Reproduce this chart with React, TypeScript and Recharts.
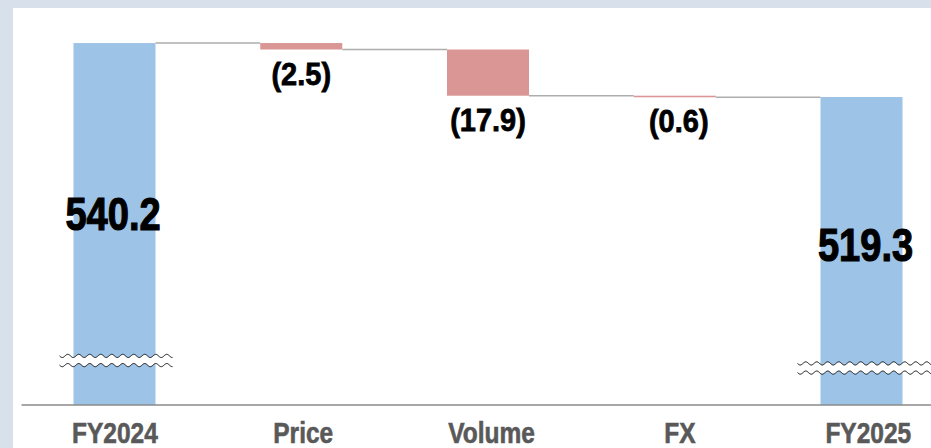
import React from 'react';
import { BarChart, Bar, XAxis, YAxis, Cell, LabelList } from 'recharts';

// waterfall data (FY2024 -> FY2025 bridge)
const CATEGORIES = ['FY2024', 'Price', 'Volume', 'FX', 'FY2025'];
const VALUES = [540.2, -2.5, -17.9, -0.6, 519.3];
const IS_TOTAL = [true, false, false, false, true];

// broken value axis: bars start at AXIS_BASE, not at zero
const AXIS_BASE = 400;
const AXIS_TOP = 553;

const CHART_W = 960;
const CHART_H = 448;
const X_AXIS_H = 43;
const MARGIN = { top: 10, right: 4.75, left: 21.5, bottom: 0 };
const BAR_SIZE = 82;
const BAND = (CHART_W - MARGIN.left - MARGIN.right) / CATEGORIES.length;
const AXIS_Y = CHART_H - MARGIN.bottom - X_AXIS_H;

const COLORS = {
  total: '#9DC3E6',
  down: '#DA9694',
  up: '#A9D18E',
  connector: '#ADADAD',
  axis: '#8A8A8A',
  tick: '#595959',
  bg: '#D8E0EB',
};

const FONT = '"Liberation Sans", Arial, sans-serif';

// axis-break marks on the total bars (offset from bar bottom, overhang left/right)
const BREAKS: Record<string, { offset: number; padL: number; padR: number }> = {
  FY2024: { offset: 44.5, padL: 14, padR: 17 },
  FY2025: { offset: 37, padL: 23, padR: 40 },
};

const fmt = (v: number) => (v < 0 ? `(${Math.abs(v).toFixed(1)})` : v.toFixed(1));

let running = 0;
const data = CATEGORIES.map((name, i) => {
  const v = VALUES[i];
  let range: [number, number];
  if (IS_TOTAL[i]) {
    range = [AXIS_BASE, v];
    running = v;
  } else {
    const end = running + v;
    range = [Math.min(end, running), Math.max(end, running)];
    running = end;
  }
  return { name, range, total: IS_TOTAL[i], down: v < 0, label: fmt(v) };
});

function wavePoints(x0: number, x1: number, yc: number) {
  const pts: string[] = [];
  for (let x = x0; x <= x1; x += 1) {
    pts.push(`${x},${(yc + 1.6 * Math.sin(((x - x0) / 11) * Math.PI * 2)).toFixed(2)}`);
  }
  return pts;
}

function WaterfallShape(props: any) {
  const { x, y, width, height, fill, index, payload } = props;
  const top = Math.min(y, y + height);
  const h = Math.abs(height);
  const bottom = top + h;
  const endY = payload.total ? top : payload.down ? bottom : top;
  const brk = payload.total ? BREAKS[payload.name] : null;

  let breakEl = null;
  if (brk) {
    const yc = bottom - brk.offset;
    const a = wavePoints(x - brk.padL, x + width + brk.padR, yc - 4.6);
    const b = wavePoints(x - brk.padL, x + width + brk.padR, yc + 4.6);
    breakEl = (
      <g>
        <polygon points={[...a, ...b.slice().reverse()].join(' ')} fill="#fff" />
        <polyline points={a.join(' ')} fill="none" stroke="#111" strokeWidth={1} />
        <polyline points={b.join(' ')} fill="none" stroke="#111" strokeWidth={1} />
      </g>
    );
  }

  return (
    <g>
      <rect x={x} y={top} width={width} height={Math.max(h, 1)} fill={fill} />
      {index < CATEGORIES.length - 1 && (
        <line
          x1={x + width}
          x2={x + BAND}
          y1={endY}
          y2={endY}
          stroke={COLORS.connector}
          strokeWidth={1.5}
        />
      )}
      {breakEl}
    </g>
  );
}

function ValueLabel(props: any) {
  const { x, y, width, height, value, index } = props;
  const top = Math.min(y, y + height);
  const bottom = top + Math.abs(height);
  const cx = x + width / 2;
  const row = data[index];

  if (row.total) {
    const brk = BREAKS[row.name];
    const breakY = bottom - brk.offset;
    const baseline = (top + breakY) / 2 + 28;
    return (
      <text
        transform={`translate(${cx + (index > 0 ? 4 : -1.5)} ${baseline}) scale(0.81 1)`}
        textAnchor="middle"
        fontFamily={FONT}
        fontWeight={700}
        fontSize={47}
        fill="#000"
        stroke="#000"
        strokeWidth={1.2}
      >
        {value}
      </text>
    );
  }
  return (
    <text
      transform={`translate(${cx + (index === 3 ? 4 : 0)} ${bottom + 35}) scale(0.92 1)`}
      textAnchor="middle"
      fontFamily={FONT}
      fontWeight={700}
      fontSize={31.5}
      fill="#000"
      stroke="#000"
      strokeWidth={0.8}
    >
      {value}
    </text>
  );
}

function CategoryTick(props: any) {
  const { x, payload, index } = props;
  return (
    <text
      transform={`translate(${x + index * 1.6} ${AXIS_Y + 38}) scale(0.845 1)`}
      textAnchor="middle"
      fontFamily={FONT}
      fontWeight={700}
      fontSize={29}
      fill={COLORS.tick}
      stroke={COLORS.tick}
      strokeWidth={0.6}
    >
      {payload.value}
    </text>
  );
}

export default function App() {
  return (
    <div
      style={{
        position: 'absolute',
        left: 0,
        top: 0,
        width: 931,
        height: 448,
        overflow: 'hidden',
        background: COLORS.bg,
      }}
    >
      <div style={{ position: 'absolute', left: 13, top: 8, right: 0, bottom: 0, background: '#fff' }} />
      <div style={{ position: 'absolute', left: 0, top: 0 }}>
        <BarChart width={CHART_W} height={CHART_H} data={data} margin={MARGIN} barCategoryGap={0}>
          <XAxis
            dataKey="name"
            height={X_AXIS_H}
            tickLine={false}
            axisLine={{ stroke: COLORS.axis, strokeWidth: 1.5 }}
            tick={<CategoryTick />}
            interval={0}
          />
          <YAxis hide type="number" domain={[AXIS_BASE, AXIS_TOP]} allowDataOverflow />
          <Bar dataKey="range" barSize={BAR_SIZE} shape={<WaterfallShape />} isAnimationActive={false}>
            {data.map((d) => (
              <Cell key={d.name} fill={d.total ? COLORS.total : d.down ? COLORS.down : COLORS.up} />
            ))}
            <LabelList dataKey="label" content={<ValueLabel />} />
          </Bar>
        </BarChart>
      </div>
    </div>
  );
}
